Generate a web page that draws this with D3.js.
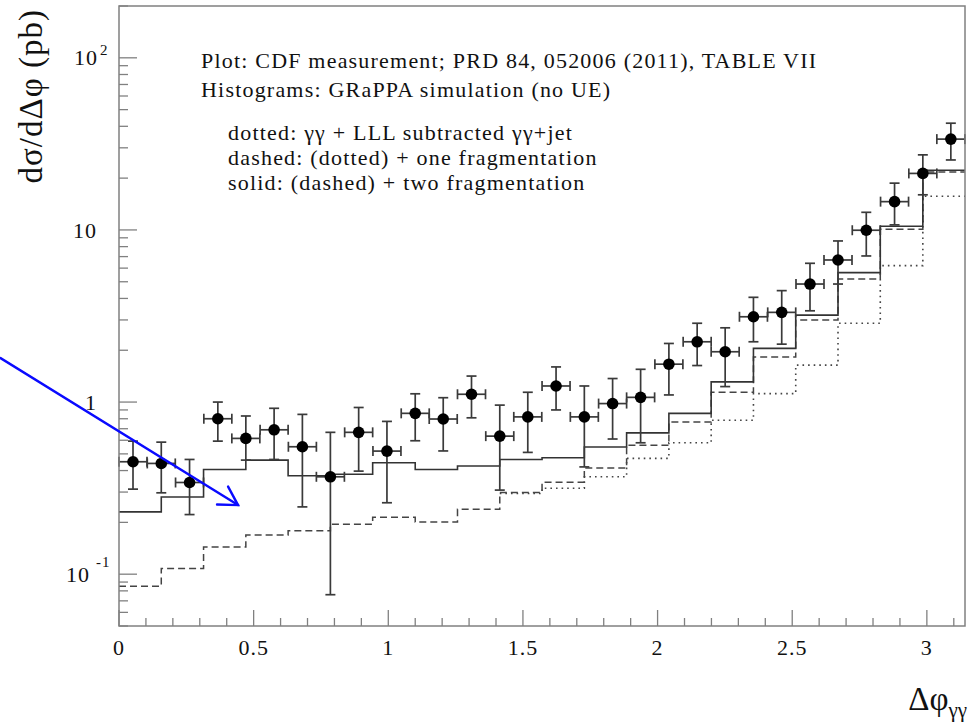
<!DOCTYPE html>
<html>
<head>
<meta charset="utf-8">
<script src="https://cdn.jsdelivr.net/npm/d3@7"></script>
<style>
  body { margin: 0; background: #fff; }
  text { font-family: "Liberation Serif", "Times New Roman", serif; fill: #111; }
</style>
</head>
<body>
<script>
// measured points: bin centres (pi/30 bins), value and error band
const dataX = [0.052, 0.157, 0.262, 0.367, 0.471, 0.576, 0.681, 0.785, 0.890, 0.995,
               1.100, 1.204, 1.309, 1.414, 1.518, 1.623, 1.728, 1.833, 1.937, 2.042,
               2.147, 2.251, 2.356, 2.461, 2.566, 2.670, 2.775, 2.880, 2.985, 3.089];
const dataXErr = 0.052;
const dataY = [0.45, 0.44, 0.341, 0.80, 0.615, 0.69, 0.55, 0.368, 0.667, 0.519,
               0.86, 0.797, 1.11, 0.634, 0.82, 1.24, 0.82, 0.98, 1.065, 1.66,
               2.24, 1.96, 3.13, 3.32, 4.85, 6.69, 9.96, 14.6, 21.3, 33.7];
const dataHigh = [0.593, 0.585, 0.464, 1.00, 0.83, 0.92, 0.848, 0.667, 0.93, 0.772,
                  1.117, 1.06, 1.416, 0.96, 1.14, 1.6, 1.24, 1.37, 1.55, 2.19,
                  2.87, 2.7, 4.06, 4.44, 6.4, 8.63, 12.66, 18.7, 27.3, 41.7];
const dataLow = [0.312, 0.297, 0.222, 0.593, 0.46, 0.464, 0.246, 0.076, 0.397, 0.26,
                 0.596, 0.52, 0.81, 0.308, 0.51, 0.9, 0.42, 0.61, 0.58, 1.1,
                 1.63, 1.23, 2.24, 2.17, 3.39, 4.85, 7.06, 10.7, 16.0, 25.5];

// simulation histograms (pi/20 bins)
const histEdges = [0, 0.157, 0.314, 0.471, 0.628, 0.785, 0.942, 1.100, 1.257, 1.414, 1.571,
                   1.728, 1.885, 2.042, 2.199, 2.356, 2.513, 2.670, 2.827, 2.985, 3.1416];
const solid = [0.23, 0.281, 0.406, 0.46, 0.373, 0.381, 0.444, 0.406, 0.425, 0.464,
               0.475, 0.548, 0.662, 0.86, 1.31, 2.05, 3.2, 5.65, 10.5, 22.2];
const dashed = [0.085, 0.108, 0.144, 0.169, 0.179, 0.195, 0.214, 0.201, 0.238, 0.298,
                0.342, 0.414, 0.562, 0.765, 1.14, 1.83, 3.0, 5.19, 10.1, 21.7];
const dotted = [null, null, null, null, null, null, null, null, null, 0.294,
                0.316, 0.368, 0.471, 0.58, 0.784, 1.12, 1.64, 2.87, 6.2, 15.7];

const xTicks = [0, 0.5, 1, 1.5, 2, 2.5, 3];
const xTickLabels = ["0", "0.5", "1", "1.5", "2", "2.5", "3"];
const yMajor = [0.1, 1, 10, 100];

// annotation arrow, in data units
const arrowFrom = [-0.44, 1.80];
const arrowTo = [0.442, 0.252];

const notes = [
  "Plot: CDF measurement; PRD 84, 052006 (2011), TABLE VII",
  "Histograms: GRaPPA simulation (no UE)",
  "dotted: \u03b3\u03b3 + LLL subtracted \u03b3\u03b3+jet",
  "dashed: (dotted) + one fragmentation",
  "solid: (dashed) + two fragmentation"
];

let width = 970, height = 724;
let frame = {left: 119, right: 965, top: 6, bottom: 626};

let x = d3.scaleLinear().domain([0, 3.1416]).range([frame.left, frame.right]);
let y = d3.scaleLog().domain([0.05, 200]).range([frame.bottom, frame.top]);

let svg = d3.select("body").append("svg")
    .attr("width", width)
    .attr("height", height);

let axisColor = "#808080";

// x ticks: major every 0.5, minor every 0.1
let xMinor = d3.range(0, 32).map(i => i / 10);
svg.append("g")
    .selectAll("line")
    .data(xMinor)
    .enter()
    .append("line")
    .attr("x1", d => x(d)).attr("x2", d => x(d))
    .attr("y1", frame.bottom)
    .attr("y2", (d, i) => frame.bottom - (i % 5 === 0 ? 16 : 8))
    .attr("stroke", axisColor)
    .attr("stroke-width", 1.3);

svg.append("g")
    .selectAll("text")
    .data(xTicks)
    .enter()
    .append("text")
    .attr("x", d => x(d))
    .attr("y", 655)
    .attr("text-anchor", "middle")
    .attr("font-size", "22px")
    .attr("letter-spacing", "1px")
    .text((d, i) => xTickLabels[i]);

// y ticks: decades and 2..9
let yTicks = y.ticks().filter(d => d >= 0.05 && d <= 200);
svg.append("g")
    .selectAll("line")
    .data(yTicks)
    .enter()
    .append("line")
    .attr("x1", frame.left)
    .attr("x2", d => frame.left + (yMajor.includes(d) ? 18 : 9))
    .attr("y1", d => y(d)).attr("y2", d => y(d))
    .attr("stroke", axisColor)
    .attr("stroke-width", 1.3);

let yLab = svg.append("g").attr("font-size", "22px").attr("letter-spacing", "1px");
yLab.append("text").attr("x", 98).attr("y", y(100) + 7).attr("text-anchor", "end")
    .text("10");
yLab.append("text").attr("x", 100).attr("y", y(100) - 3).attr("font-size", "15px").text("2");
yLab.append("text").attr("x", 97).attr("y", y(10) + 8).attr("text-anchor", "end").text("10");
yLab.append("text").attr("x", 97).attr("y", y(1) + 8).attr("text-anchor", "end").text("1");
yLab.append("text").attr("x", 90).attr("y", y(0.1) + 8).attr("text-anchor", "end").text("10");
yLab.append("text").attr("x", 96).attr("y", y(0.1) - 7).attr("font-size", "15px").text("-1");

// histograms
let stepLine = d3.line()
    .defined(d => d[1] != null)
    .x(d => x(d[0]))
    .y(d => y(d[1]))
    .curve(d3.curveStepAfter);

function histPoints(vals) {
  let pts = vals.map((v, i) => [histEdges[i], v]);
  pts.push([histEdges[vals.length], vals[vals.length - 1]]);
  return pts;
}

let plot = svg.append("g");
plot.append("path")
    .attr("d", stepLine(histPoints(dotted)))
    .attr("fill", "none").attr("stroke", "#444").attr("stroke-width", 1.6)
    .attr("stroke-dasharray", "1.6,4");
plot.append("path")
    .attr("d", stepLine(histPoints(dashed)))
    .attr("fill", "none").attr("stroke", "#444").attr("stroke-width", 1.5)
    .attr("stroke-dasharray", "7,4");
plot.append("path")
    .attr("d", stepLine(histPoints(solid)))
    .attr("fill", "none").attr("stroke", "#333").attr("stroke-width", 1.6);

// data with error bars
let points = dataX.map((d, i) => ({x: d, y: dataY[i], hi: dataHigh[i], lo: dataLow[i]}));
let pts = plot.selectAll(".pt")
    .data(points)
    .enter()
    .append("g")
    .attr("class", "pt")
    .attr("stroke", "#3a3a3a")
    .attr("stroke-width", 1.7);

pts.append("line")
    .attr("x1", d => x(d.x)).attr("x2", d => x(d.x))
    .attr("y1", d => y(d.lo)).attr("y2", d => y(d.hi));
pts.append("line")
    .attr("x1", d => x(d.x - dataXErr)).attr("x2", d => x(d.x + dataXErr))
    .attr("y1", d => y(d.y)).attr("y2", d => y(d.y));
pts.append("line")
    .attr("x1", d => x(d.x) - 5).attr("x2", d => x(d.x) + 5)
    .attr("y1", d => y(d.hi)).attr("y2", d => y(d.hi));
pts.append("line")
    .attr("x1", d => x(d.x) - 5).attr("x2", d => x(d.x) + 5)
    .attr("y1", d => y(d.lo)).attr("y2", d => y(d.lo));
pts.append("line")
    .attr("x1", d => x(d.x - dataXErr)).attr("x2", d => x(d.x - dataXErr))
    .attr("y1", d => y(d.y) - 5).attr("y2", d => y(d.y) + 5);
pts.append("line")
    .attr("x1", d => x(d.x + dataXErr)).attr("x2", d => x(d.x + dataXErr))
    .attr("y1", d => y(d.y) - 5).attr("y2", d => y(d.y) + 5);
pts.append("circle")
    .attr("cx", d => x(d.x)).attr("cy", d => y(d.y))
    .attr("r", 5.8)
    .attr("fill", "#000").attr("stroke", "none");

// frame
svg.append("rect")
    .attr("x", frame.left).attr("y", frame.top)
    .attr("width", frame.right - frame.left).attr("height", frame.bottom - frame.top)
    .attr("fill", "none").attr("stroke", axisColor).attr("stroke-width", 1.5);

// notes
let noteY = [68, 97, 140, 165, 190];
let noteX = [201, 201, 228, 228, 228];
svg.append("g")
    .selectAll("text")
    .data(notes)
    .enter()
    .append("text")
    .attr("x", (d, i) => noteX[i])
    .attr("y", (d, i) => noteY[i])
    .attr("font-size", "22px")
    .attr("letter-spacing", "1.2px")
    .text(d => d);

// axis titles
svg.append("text")
    .attr("transform", "translate(42,9) rotate(-90)")
    .attr("text-anchor", "end")
    .attr("font-size", "33px")
    .attr("letter-spacing", "1px")
    .text("d\u03c3/d\u0394\u03c6 (pb)");

let xt = svg.append("text")
    .attr("x", 967).attr("y", 710)
    .attr("text-anchor", "end")
    .attr("font-size", "33px");
xt.append("tspan").text("\u0394\u03c6");
xt.append("tspan").attr("font-size", "21px").attr("dy", 7).text("\u03b3\u03b3");

// blue arrow
let ax0 = x(arrowFrom[0]), ay0 = y(arrowFrom[1]);
let ax1 = x(arrowTo[0]), ay1 = y(arrowTo[1]);
let ang = Math.atan2(ay0 - ay1, ax0 - ax1);
let wing = 21, spread = Math.PI / 6;
let arrow = svg.append("g")
    .attr("stroke", "#0a0aff")
    .attr("stroke-width", 2.4)
    .attr("fill", "none")
    .attr("stroke-linecap", "round");
arrow.append("line")
    .attr("x1", ax0).attr("y1", ay0).attr("x2", ax1).attr("y2", ay1);
arrow.append("polyline")
    .attr("points", [
      [ax1 + wing * Math.cos(ang + spread), ay1 + wing * Math.sin(ang + spread)],
      [ax1, ay1],
      [ax1 + wing * Math.cos(ang - spread), ay1 + wing * Math.sin(ang - spread)]
    ].map(p => p.join(",")).join(" "));
</script>
</body>
</html>
